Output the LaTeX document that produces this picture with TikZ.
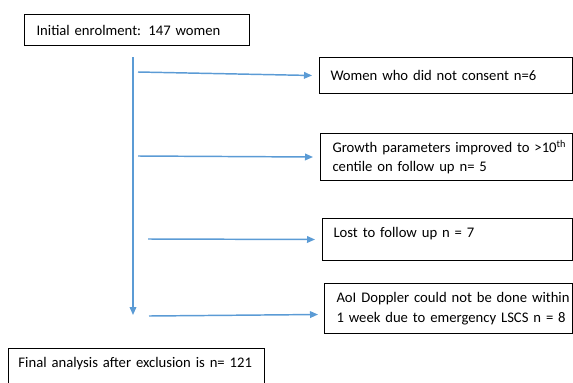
\documentclass[tikz,border=0pt]{standalone}
\usepackage{fontspec}
\setmainfont{Carlito}
\usetikzlibrary{arrows.meta,calc}
\definecolor{arrowblue}{RGB}{91,155,213}
\tikzset{
  flowbox/.style={draw=black, line width=0.75pt, anchor=north west, align=left, inner ysep=0pt, font=\fontsize{11pt}{14.5pt}\selectfont},
  flowarrow/.style={draw=arrowblue, line width=1.1pt, -{Triangle[length=6pt,width=5pt]}}
}
\begin{document}
\begin{tikzpicture}[x=0.75pt,y=0.75pt,yscale=-1]
\useasboundingbox (0,0) rectangle (573,382);
\clip (0,0) rectangle (573,382);
%Shape: Rectangle [enrolment]
\node[flowbox, inner xsep=9pt, text width=150.75pt, minimum height=23.25pt] (enrol) at (24,14) {Initial enrolment: 147 women};
%Shape: Rectangle [exclusions]
\node[flowbox, inner xsep=8.25pt, text width=173.25pt, minimum height=27pt] (noconsent) at (319,57) {Women who did not consent n=6};
\node[flowbox, inner xsep=9pt, text width=171pt, minimum height=35.25pt] (growth) at (320,133) {\mbox{Growth parameters improved to >10\textsuperscript{th}}\\centile on follow up n= 5};
\node[flowbox, inner xsep=8.25pt, text width=171pt, text height=14.25pt, text depth=17.25pt] (lost) at (322,218) {Lost to follow up n = 7};
\node[flowbox, inner xsep=9pt, text width=168pt, minimum height=37.5pt] (doppler) at (324,283) {\mbox{AoI Doppler could not be done within}\\\mbox{1 week due to emergency LSCS n = 8}};
%Shape: Rectangle [final]
\node[flowbox, inner xsep=7.5pt, text width=177pt, text height=14.25pt, text depth=30pt] (final) at (8,348) {Final analysis after exclusion is n= 121};
% Arrows
\coordinate (trunktop) at (133,57);
\coordinate (trunkend) at (133,315);
\draw[flowarrow] (trunktop) -- (trunkend);
\coordinate (out1) at (138,72);
\coordinate (out2) at (138,156);
\coordinate (out3) at (148,239);
\coordinate (out4) at (149,316);
\draw[flowarrow] (out1) -- ($(noconsent.west)+(-7,0)$);
\draw[flowarrow] (out2) -- ($(growth.west)+(-7,0)$);
\draw[flowarrow] (out3) -- ($(lost.west)+(-7,0)$);
\draw[flowarrow] (out4) -- ($(doppler.west)+(-6,6)$);
\end{tikzpicture}
\end{document}
